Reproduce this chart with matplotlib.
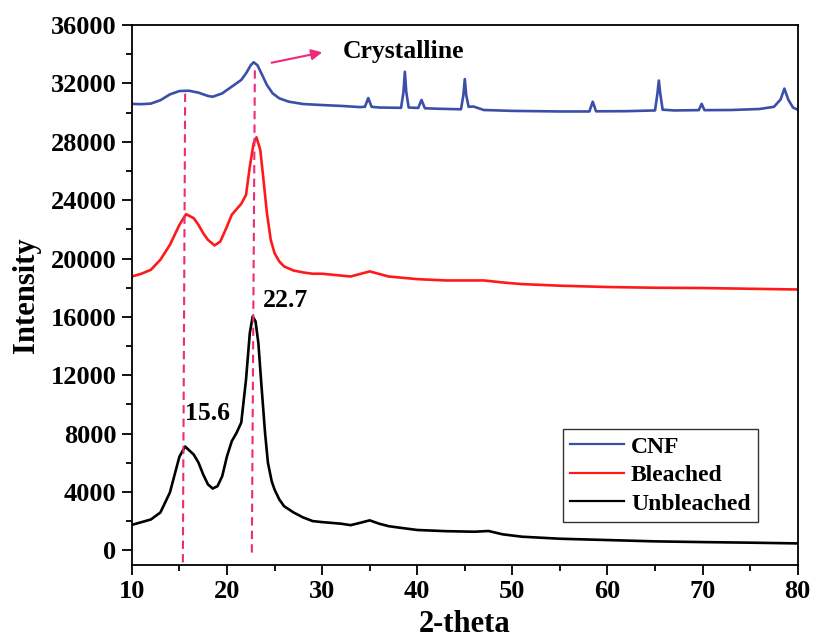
import matplotlib
matplotlib.use('Agg')
import matplotlib.pyplot as plt
from matplotlib.ticker import MultipleLocator

# XRD patterns (2-theta in degrees, intensity in counts)
cnf_x = [10, 11, 12, 13, 14, 15, 16, 17, 18, 18.5, 19.5, 20.5, 21.5, 22, 22.5, 22.8, 23.2, 23.7,
         24.2, 24.8, 25.5, 26.5, 28, 30, 32, 34, 34.5, 34.85, 35.2, 36, 38.3, 38.55, 38.7, 38.85,
         39.1, 40.1, 40.45, 40.8, 42, 44.6, 44.85, 45.0, 45.15, 45.4, 45.9, 47, 50, 55, 58.1,
         58.45, 58.8, 62, 65.0, 65.25, 65.4, 65.55, 65.8, 67, 69.6, 69.9, 70.2, 73, 76, 77.5,
         78.2, 78.6, 79.0, 79.5, 80]
cnf_y = [30600, 30580, 30620, 30850, 31250, 31480, 31500, 31370, 31140, 31090, 31320, 31780,
         32240, 32690, 33250, 33450, 33250, 32580, 31890, 31320, 30980, 30750, 30590, 30520,
         30460, 30380, 30400, 31000, 30400, 30350, 30330, 31400, 32800, 31400, 30350, 30320,
         30870, 30300, 30270, 30230, 31200, 32300, 31200, 30400, 30420, 30180, 30120, 30080,
         30080, 30750, 30090, 30100, 30150, 31300, 32200, 31300, 30200, 30150, 30170, 30600,
         30170, 30180, 30250, 30400, 30900, 31650, 30900, 30350, 30200]

bleached_x = [10, 11, 12, 13, 14, 15, 15.7, 16.5, 17, 17.5, 18, 18.7, 19.3, 20, 20.5, 21, 21.5,
              22, 22.4, 22.8, 23.1, 23.5, 23.8, 24.2, 24.6, 25, 25.5, 26, 27, 28, 29, 30, 33,
              35, 37, 40, 43, 47, 49, 51, 55, 60, 65, 70, 75, 80]
bleached_y = [18770, 18960, 19230, 19920, 20940, 22310, 23040, 22770, 22310, 21740, 21280,
              20900, 21170, 22200, 23000, 23380, 23750, 24360, 26300, 27900, 28310, 27440,
              25620, 23110, 21280, 20370, 19800, 19460, 19180, 19050, 18960, 18960, 18770,
              19120, 18770, 18590, 18500, 18500, 18360, 18250, 18140, 18050, 18000, 17980,
              17930, 17880]

unbleached_x = [10, 12, 13, 14, 15, 15.6, 16.5, 17, 17.5, 18, 18.5, 19, 19.5, 20, 20.5, 21, 21.5,
                22, 22.4, 22.7, 23, 23.3, 23.6, 24, 24.3, 24.7, 25, 25.5, 26, 27, 28, 29, 30,
                32, 33, 34, 35, 36, 37, 38, 40, 43, 46, 47.5, 49, 51, 55, 60, 65, 70, 75, 80]
unbleached_y = [1750, 2120, 2600, 3970, 6430, 7120, 6570, 6020, 5200, 4520, 4240, 4400, 5090,
                6450, 7480, 8050, 8760, 11700, 14900, 16030, 15700, 14200, 11500, 8070, 6020,
                4740, 4170, 3490, 3030, 2600, 2260, 2010, 1940, 1830, 1730, 1890, 2060, 1830,
                1660, 1570, 1400, 1320, 1280, 1330, 1100, 940, 800, 710, 620, 570, 530, 480]

series_labels = ['CNF', 'Bleached', 'Unbleached']
series_colors = ['#3b4fa8', '#ff1a1a', '#000000']

# dashed guides marking the two cellulose peaks (slightly slanted in the original)
guide_x_top = [15.6, 22.93]
guide_x_bottom = [15.36, 22.61]
guide_y_top = [31300, 32900]
guide_y_bottom = [-1000, -340]

peak_labels = ['15.6', '22.7']
peak_label_x = [15.57, 23.8]
peak_label_y = [9380, 17110]

pink = '#ee2a7b'
font = 'Liberation Serif'

fig = plt.figure(figsize=(8.14, 6.43), dpi=100)
ax = fig.add_axes([0.162, 0.1213, 0.818, 0.8397])

for xs, ys, lab, col in zip([cnf_x, bleached_x, unbleached_x],
                            [cnf_y, bleached_y, unbleached_y],
                            series_labels, series_colors):
    ax.plot(xs, ys, color=col, linewidth=1.9, label=lab)

for xt, xb, yt, yb in zip(guide_x_top, guide_x_bottom, guide_y_top, guide_y_bottom):
    ax.plot([xt, xb], [yt, yb], color=pink, linewidth=1.5, dashes=(4, 2.5))

for txt, tx, ty in zip(peak_labels, peak_label_x, peak_label_y):
    ax.text(tx, ty, txt, fontsize=18.5, fontweight='bold', family=font, va='center', ha='left')

ax.annotate('', xy=(30.3, 34170), xytext=(24.4, 33380),
            arrowprops=dict(arrowstyle='-|>', color=pink, lw=1.5, mutation_scale=16))
ax.text(32.2, 33775, 'Crystalline', fontsize=18.5, fontweight='bold', family=font,
        ha='left', va='baseline')

ax.set_xlim(10, 80)
ax.set_ylim(-1000, 36000)
ax.xaxis.set_major_locator(MultipleLocator(10))
ax.xaxis.set_minor_locator(MultipleLocator(5))
ax.yaxis.set_major_locator(MultipleLocator(4000))
ax.yaxis.set_minor_locator(MultipleLocator(2000))
ax.tick_params(which='major', direction='out', length=7, width=1.3, pad=4)
ax.tick_params(which='minor', direction='out', length=4, width=1.3)
for lbl in ax.get_xticklabels() + ax.get_yticklabels():
    lbl.set_fontfamily(font)
    lbl.set_fontweight('bold')
    lbl.set_fontsize(19)
for sp in ax.spines.values():
    sp.set_linewidth(1.3)

ax.set_xlabel('2-theta', fontsize=22, fontweight='bold', family=font, labelpad=5)
ax.set_ylabel('Intensity', fontsize=22, fontweight='bold', family=font, labelpad=7)

leg = ax.legend(loc='lower right', bbox_to_anchor=(0.94, 0.08), borderaxespad=0,
                prop={'family': font, 'weight': 'bold', 'size': 17},
                fancybox=False, framealpha=1, edgecolor='#333333',
                handlelength=2.3, handletextpad=0.3, labelspacing=0.3, borderpad=0.3)
leg.get_frame().set_linewidth(1.0)
for line in leg.get_lines():
    line.set_linewidth(1.6)

plt.savefig('out.png', dpi=100)
plt.close()
